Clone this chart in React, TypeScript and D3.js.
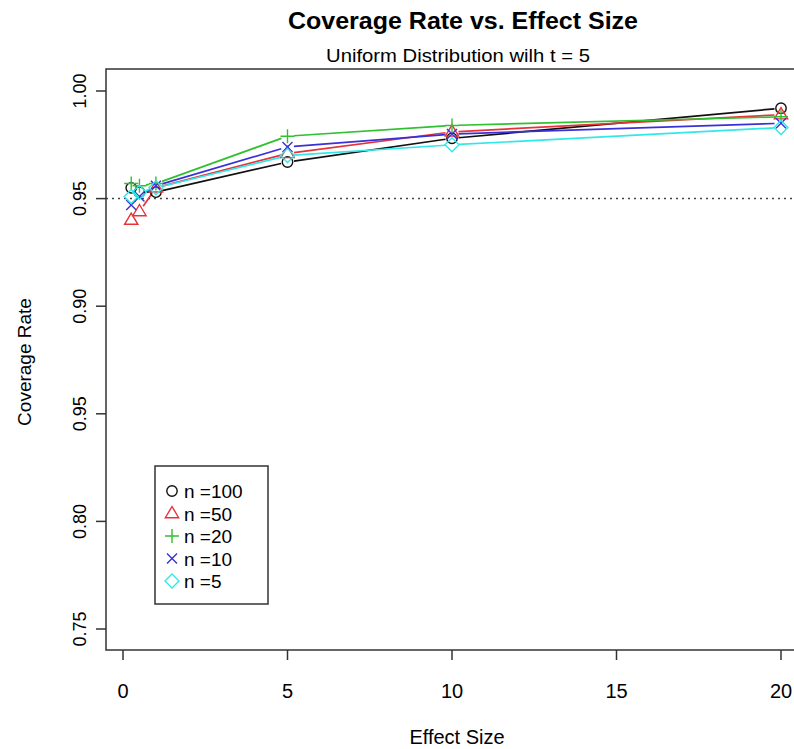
import React from "react";
import * as d3 from "d3";

const effectSizes = [0.25, 0.5, 1, 5, 10, 20];
const seriesNames = ["n =100", "n =50", "n =20", "n =10", "n =5"];
const n100 = [0.955, 0.953, 0.953, 0.967, 0.978, 0.992];
const n50 = [0.940, 0.944, 0.955, 0.971, 0.981, 0.989];
const n20 = [0.957, 0.956, 0.957, 0.979, 0.984, 0.988];
const n10 = [0.947, 0.951, 0.956, 0.974, 0.980, 0.985];
const n5 = [0.951, 0.953, 0.955, 0.970, 0.975, 0.983];
const xTicks = [0, 5, 10, 15, 20];
const yTicks = [1.0, 0.95, 0.9, 0.85, 0.8, 0.75];
const yTickLabels = ["1.00", "0.95", "0.90", "0.95", "0.80", "0.75"];
const refLine = 0.95;

const colors = ["#111111", "#e8323a", "#30c030", "#3a30d8", "#30e8e8"];
const shapes = ["circle", "triangle", "plus", "cross", "diamond"];
const seriesValues = [n100, n50, n20, n10, n5];

const FONT = "'Liberation Sans', Arial, Helvetica, sans-serif";

function Marker({ shape, x, y, color }: { shape: string; x: number; y: number; color: string }) {
  const sw = 1.4;
  if (shape === "circle") return <circle cx={x} cy={y} r={5.2} fill="none" stroke={color} strokeWidth={sw} />;
  if (shape === "triangle") {
    const s = 7;
    const p = `${x},${y - s} ${x - s * 0.95},${y + s * 0.6} ${x + s * 0.95},${y + s * 0.6}`;
    return <polygon points={p} fill="none" stroke={color} strokeWidth={sw} />;
  }
  if (shape === "plus") {
    const s = 7;
    return <path d={`M${x - s},${y}H${x + s}M${x},${y - s}V${y + s}`} stroke={color} strokeWidth={sw} />;
  }
  if (shape === "cross") {
    const s = 5;
    return <path d={`M${x - s},${y - s}L${x + s},${y + s}M${x - s},${y + s}L${x + s},${y - s}`} stroke={color} strokeWidth={sw} />;
  }
  const s = 7;
  return <polygon points={`${x},${y - s} ${x + s},${y} ${x},${y + s} ${x - s},${y}`} fill="none" stroke={color} strokeWidth={sw} />;
}

export default function App() {
  const W = 794, H = 749;
  const left = 106, top = 69, bottom = 650;
  const x = d3.scaleLinear().domain([0, 20]).range([123, 781]);
  const y = d3.scaleLinear().domain([0.75, 1.0]).range([629, 91]);
  const right = x(20.79);
  const gap = 6.5;

  const segs: JSX.Element[] = [];
  seriesValues.forEach((vals, si) => {
    for (let i = 0; i < vals.length - 1; i++) {
      const x1 = x(effectSizes[i]), y1 = y(vals[i]);
      const x2 = x(effectSizes[i + 1]), y2 = y(vals[i + 1]);
      const dx = x2 - x1, dy = y2 - y1;
      const len = Math.hypot(dx, dy);
      if (len <= 2 * gap) continue;
      const ux = dx / len, uy = dy / len;
      segs.push(
        <line key={`s${si}-${i}`} x1={x1 + ux * gap} y1={y1 + uy * gap} x2={x2 - ux * gap} y2={y2 - uy * gap}
          stroke={colors[si]} strokeWidth={1.7} />
      );
    }
  });

  return (
    <svg width={W} height={H} style={{ position: "absolute", left: 0, top: 0, background: "#fff" }} fontFamily={FONT}>
      <rect x={0} y={0} width={W} height={H} fill="#fff" />
      <text x={463} y={29} textAnchor="middle" fontSize={23} fontWeight="bold" textLength={350} lengthAdjust="spacingAndGlyphs">Coverage Rate vs. Effect Size</text>
      <text x={458} y={62} textAnchor="middle" fontSize={19} textLength={264} lengthAdjust="spacingAndGlyphs">Uniform Distribution wilh t = 5</text>

      {/* reference line */}
      <line x1={left} x2={right} y1={y(refLine)} y2={y(refLine)} stroke="#444" strokeWidth={1.5} strokeDasharray="2,4" />

      {segs}
      {seriesValues.map((vals, si) =>
        vals.map((v, i) => (
          <Marker key={`m${si}-${i}`} shape={shapes[si]} x={x(effectSizes[i])} y={y(v)} color={colors[si]} />
        ))
      )}

      {/* box */}
      <rect x={left} y={top} width={right - left} height={bottom - top} fill="none" stroke="#333" strokeWidth={1.5} />

      {/* x axis */}
      {xTicks.map((t) => (
        <g key={`xt${t}`}>
          <line x1={x(t)} x2={x(t)} y1={bottom} y2={bottom + 10} stroke="#333" strokeWidth={1.5} />
          <text x={x(t)} y={698} textAnchor="middle" fontSize={20}>{t}</text>
        </g>
      ))}
      <text x={457} y={744} textAnchor="middle" fontSize={20}>Effect Size</text>

      {/* y axis */}
      {yTicks.map((t, i) => (
        <g key={`yt${i}`}>
          <line x1={left} x2={left - 10} y1={y(t)} y2={y(t)} stroke="#333" strokeWidth={1.5} />
          <text transform={`translate(86,${y(t)}) rotate(-90)`} textAnchor="middle" fontSize={18}>{yTickLabels[i]}</text>
        </g>
      ))}
      <text transform={`translate(31,362) rotate(-90)`} textAnchor="middle" fontSize={19}>Coverage Rate</text>

      {/* legend */}
      <rect x={155} y={466} width={113} height={138} fill="#fff" stroke="#333" strokeWidth={1.5} />
      {seriesNames.map((name, i) => (
        <g key={`lg${i}`}>
          <Marker shape={shapes[i]} x={172} y={491 + i * 22.5} color={colors[i]} />
          <text x={184} y={491 + i * 22.5 + 7} fontSize={19}>{name}</text>
        </g>
      ))}
    </svg>
  );
}
